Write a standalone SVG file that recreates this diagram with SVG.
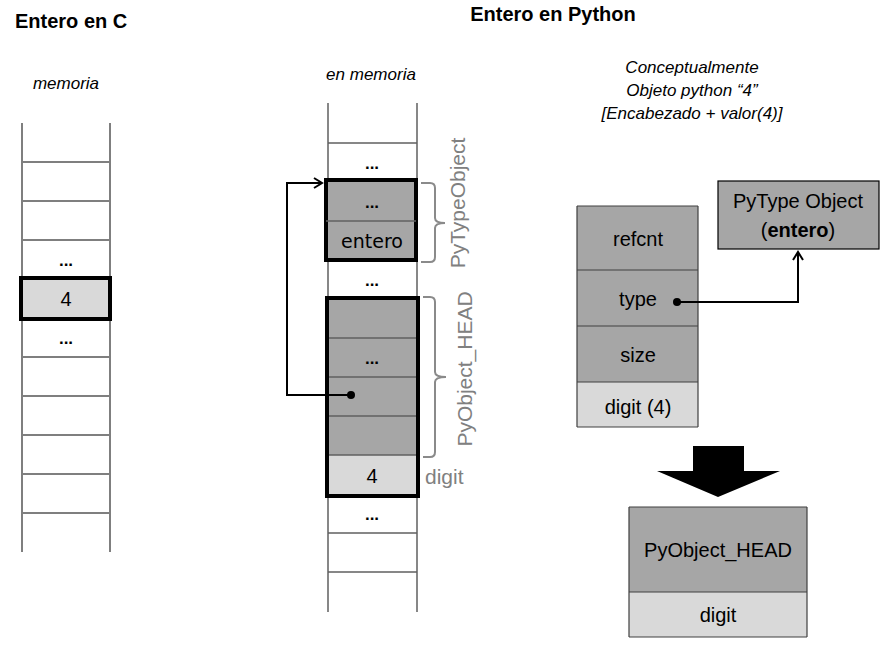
<svg xmlns="http://www.w3.org/2000/svg" width="886" height="645" viewBox="0 0 886 645">
<style>
text{font-family:"Liberation Sans",Arial,sans-serif;fill:#000}
.title{font-weight:bold;font-size:20px}
.it{font-style:italic;font-size:17px}
.grid{stroke:#7f7f7f;stroke-width:2;fill:none}
.grid2{stroke:#606060;stroke-width:1.5;fill:none}
.cell{font-size:20px;text-anchor:middle}
.dots{font-size:17px;font-weight:bold;text-anchor:middle}
.thick{stroke:#000;stroke-width:4}
.dark{fill:#a6a6a6}
.light{fill:#d9d9d9}
.gl{fill:#808080;font-size:21px}
.brace{stroke:#8a8a8a;stroke-width:2;fill:none}
.conn{stroke:#000;stroke-width:2;fill:none}
</style>
<defs>
<marker id="open" markerWidth="12" markerHeight="12" refX="10" refY="6" orient="auto" markerUnits="userSpaceOnUse">
<path d="M2,1 L10,6 L2,11" fill="none" stroke="#000" stroke-width="2"/>
</marker>
</defs>
<rect width="886" height="645" fill="#fff"/>

<text class="title" x="15" y="28">Entero en C</text>
<text class="title" x="553" y="21" text-anchor="middle">Entero en Python</text>
<text class="it" x="66" y="89" text-anchor="middle">memoria</text>
<text class="it" x="371" y="80" text-anchor="middle">en memoria</text>

<g id="c-memory">
<path class="grid" d="M22,123V552M110,123V552M22,162H110M22,201H110M22,240H110M22,357H110M22,396H110M22,435H110M22,474H110M22,513H110"/>
<text class="dots" x="66" y="266">...</text>
<rect x="21" y="278" width="89" height="41" class="light thick"/>
<text class="cell" x="66" y="306">4</text>
<text class="dots" x="66" y="344">...</text>
</g>

<g id="py-memory">
<path class="grid2" d="M328,103V612M417,103V612M328,143H417M328,533H417M328,572H417"/>
<text class="dots" x="372" y="169">...</text>
<text class="dots" x="372" y="286">...</text>
<text class="dots" x="372" y="520">...</text>
</g>

<g id="pytypeobject-block">
<rect x="326" y="180" width="90" height="80" class="dark thick"/>
<path class="grid2" d="M326,221H416"/>
<text class="dots" x="372" y="208">...</text>
<text x="372" y="248" text-anchor="middle" style="font-family:'DejaVu Sans',sans-serif;font-size:19px">entero</text>
</g>

<g id="pyobject-block">
<rect x="327" y="298" width="91" height="157" class="dark"/>
<rect x="327" y="455" width="91" height="41" class="light"/>
<path class="grid2" d="M327,338H418M327,377H418M327,416H418M327,455H418"/>
<rect x="327" y="298" width="91" height="198" fill="none" class="thick"/>
<text class="dots" x="372" y="364">...</text>
<text class="cell" x="372" y="483">4</text>
</g>

<g id="labels">
<path class="brace" d="M421,183H430Q435,183 435,188V218Q435,223 445,223Q435,223 435,228V257Q435,262 430,262H421"/>
<text class="gl" transform="translate(465,203) rotate(-90)" text-anchor="middle" font-size="22">PyTypeObject</text>
<path class="brace" d="M423,297H430Q435,297 435,302V372Q435,377 446,377Q435,377 435,382V452Q435,457 430,457H423"/>
<text class="gl" transform="translate(472,369) rotate(-90)" text-anchor="middle">PyObject_HEAD</text>
<text class="gl" x="425" y="484" font-size="22">digit</text>
</g>

<g id="concept-text">
<text class="it" x="692" y="73" text-anchor="middle">Conceptualmente</text>
<text class="it" x="692" y="96" text-anchor="middle">Objeto python “4”</text>
<text class="it" x="692" y="119" text-anchor="middle">[Encabezado + valor(4)]</text>
</g>

<g id="concept-struct">
<rect x="577" y="206" width="121" height="176" class="dark"/>
<rect x="577" y="382" width="121" height="45" class="light"/>
<path stroke="#404040" stroke-width="1.2" fill="none" d="M577,206H698M577,270H698M577,326H698M577,382H698M577,427H698M577,206V427M698,206V427"/>
<text class="cell" x="638" y="246">refcnt</text>
<text class="cell" x="638" y="306">type</text>
<text class="cell" x="638" y="362">size</text>
<text class="cell" x="638" y="414">digit (4)</text>
</g>

<g id="pytype-object">
<rect x="718" y="181" width="161" height="68" class="dark" stroke="#000" stroke-width="1.2"/>
<text class="cell" x="798" y="208">PyType Object</text>
<text class="cell" x="798" y="237">(<tspan font-weight="bold">entero</tspan>)</text>
</g>

<g id="big-arrow">
<path d="M693,446H744V471H780L718,497L657,471H693Z" fill="#000"/>
</g>

<g id="result-struct">
<rect x="629" y="507" width="178" height="85" class="dark"/>
<rect x="629" y="592" width="178" height="45" class="light"/>
<path stroke="#404040" stroke-width="1.2" fill="none" d="M629,507H807M629,592H807M629,637H807M629,507V637M807,507V637"/>
<text class="cell" x="718" y="557">PyObject_HEAD</text>
<text class="cell" x="718" y="622">digit</text>
</g>

<g id="connectors">
<circle cx="351" cy="395" r="4" fill="#000"/>
<path class="conn" d="M351,395H287V183H322" marker-end="url(#open)"/>
<circle cx="677" cy="302" r="4" fill="#000"/>
<path class="conn" d="M677,302H798V252" marker-end="url(#open)"/>
</g>
</svg>
